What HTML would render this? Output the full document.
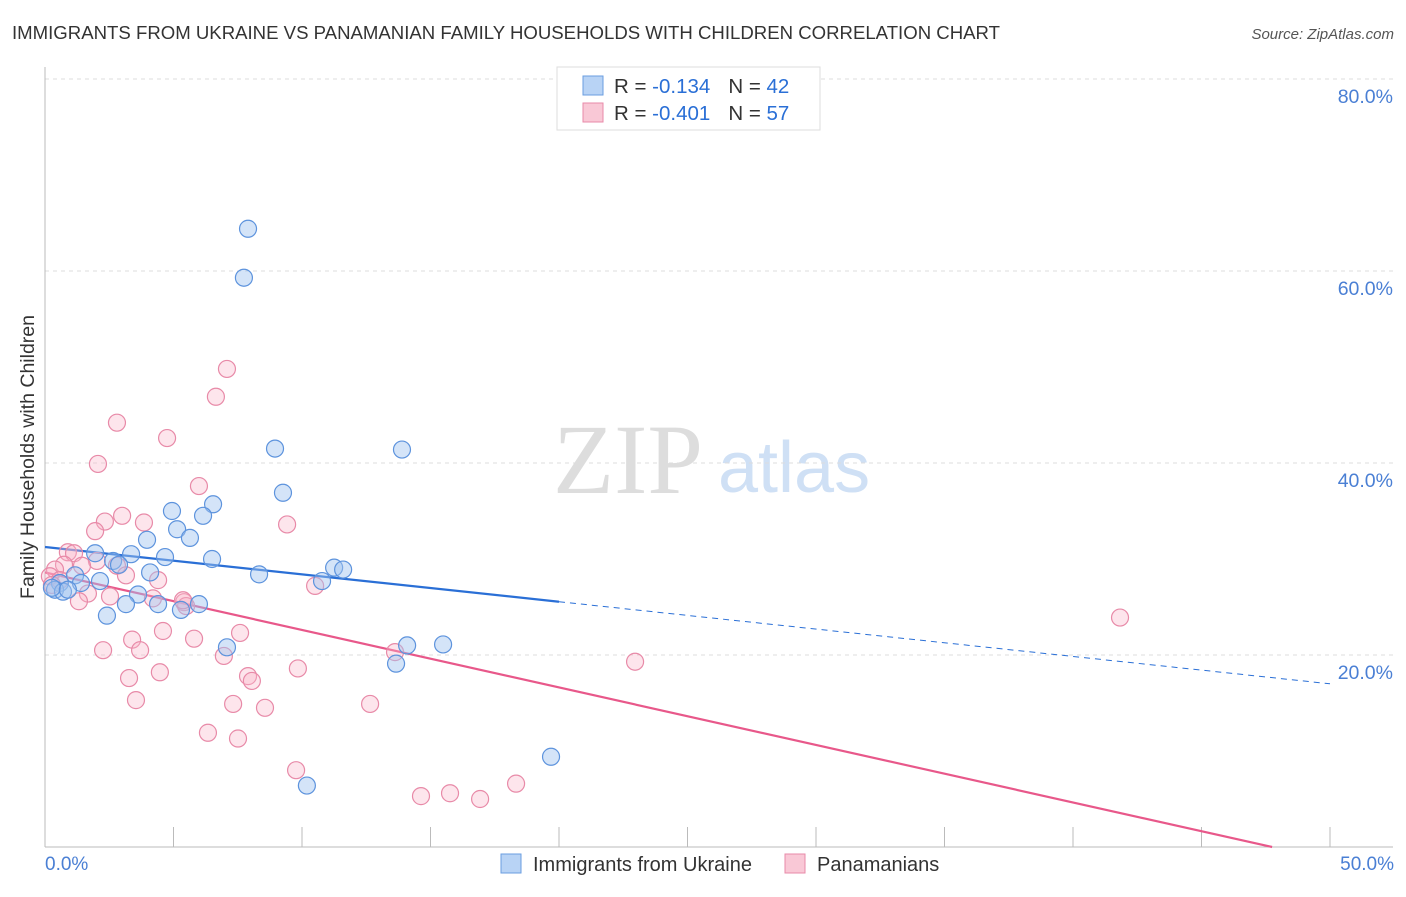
<!DOCTYPE html>
<html><head><meta charset="utf-8"><style>
body{margin:0;background:#fff;font-family:"Liberation Sans",sans-serif;}
</style></head><body>
<svg width="1406" height="892" xmlns="http://www.w3.org/2000/svg" font-family="Liberation Sans, sans-serif">
<text x="12" y="39" font-size="18.6" fill="#333">IMMIGRANTS FROM UKRAINE VS PANAMANIAN FAMILY HOUSEHOLDS WITH CHILDREN CORRELATION CHART</text>
<text x="1394" y="39" font-size="15" fill="#555" font-style="italic" text-anchor="end">Source: ZipAtlas.com</text>
<text x="553" y="493" font-size="100" fill="#ddd" font-family="Liberation Serif, serif">ZIP</text>
<text x="718" y="492" font-size="72" fill="#cfe0f5">atlas</text>
<g id="grid"></g>
<line x1="45" y1="67" x2="45" y2="847" stroke="#bbb"/>
<line x1="45" y1="847" x2="1393" y2="847" stroke="#bbb"/>
<text x="34" y="457" font-size="19.5" fill="#333" transform="rotate(-90 34 457)" text-anchor="middle">Family Households with Children</text>
<text x="45" y="870" font-size="19" fill="#4a7fd4">0.0%</text>
<text x="1394" y="870" font-size="19" fill="#4a7fd4" text-anchor="end">50.0%</text>
<g id="trend"></g>
<g id="pts"></g>
<g>
<rect x="557" y="67" width="263" height="63" fill="#fff" stroke="#ddd"/>
<rect x="583" y="76" width="20" height="19" fill="#b8d3f5" stroke="#6a9ee0"/>
<rect x="583" y="103" width="20" height="19" fill="#f9c8d6" stroke="#e88aa8"/>
<text x="614" y="93" font-size="20.5" fill="#333">R = <tspan fill="#2a6fd6"> -0.134</tspan><tspan dx="18">N = </tspan><tspan fill="#2a6fd6">42</tspan></text>
<text x="614" y="120" font-size="20.5" fill="#333">R = <tspan fill="#2a6fd6">-0.401</tspan><tspan dx="18">N = </tspan><tspan fill="#2a6fd6">57</tspan></text>
</g>
<g>
<rect x="501" y="854" width="20" height="19" fill="#b8d3f5" stroke="#6a9ee0"/>
<text x="533" y="871" font-size="20" fill="#333">Immigrants from Ukraine</text>
<rect x="785" y="854" width="20" height="19" fill="#f9c8d6" stroke="#e88aa8"/>
<text x="817" y="871" font-size="20" fill="#333">Panamanians</text>
</g>
</svg>
<script>
const yTicks=[20,40,60,80];
const ukrX=[7.90,7.74,8.95,13.89,9.26,6.54,4.94,6.15,5.14,5.64,3.97,1.95,3.35,4.67,6.50,2.65,2.88,11.25,11.60,4.09,8.33,1.17,10.78,2.14,0.58,1.40,3.62,0.39,0.70,3.15,4.40,5.99,5.29,2.41,7.08,14.09,15.49,13.66,19.69,10.19,0.27,0.89];
const ukrY=[64.4,59.3,41.5,41.4,36.9,35.7,35.0,34.5,33.1,32.2,32.0,30.6,30.5,30.2,30.0,29.8,29.4,29.1,28.9,28.6,28.4,28.3,27.7,27.7,27.5,27.5,26.3,26.8,26.6,25.3,25.3,25.3,24.7,24.1,20.8,21.0,21.1,19.1,9.4,6.4,27.0,26.8];
const panX=[7.08,6.65,2.80,4.75,2.06,5.99,3.00,9.42,3.85,2.33,1.95,0.89,1.13,2.02,0.74,2.80,1.44,0.39,0.19,3.15,4.40,1.67,2.53,1.32,4.20,5.41,5.49,4.59,5.80,7.59,3.39,3.70,2.26,6.96,13.62,22.96,9.84,4.47,7.90,8.05,3.27,3.54,7.32,8.56,12.65,6.34,7.51,9.77,14.63,15.76,16.93,18.33,41.83,10.51,0.58,0.27,5.37];
const panY=[49.8,46.9,44.2,42.6,39.9,37.6,34.5,33.6,33.8,33.9,32.9,30.7,30.6,29.8,29.4,29.3,29.3,28.9,28.2,28.3,27.8,26.4,26.1,25.6,25.9,25.5,25.1,22.5,21.7,22.3,21.6,20.5,20.5,19.9,20.3,19.3,18.6,18.2,17.8,17.3,17.6,15.3,14.9,14.5,14.9,11.9,11.3,8.0,5.3,5.6,5.0,6.6,23.9,27.2,27.8,27.3,25.7];
const ukrTrend=[31.25,17.0];
const panTrend=[28.6,-1.35];
const NS="http://www.w3.org/2000/svg";
const xs=v=>45+v*25.7, ys=v=>847-v*9.6;
function mk(t,a,p){const e=document.createElementNS(NS,t);for(const k in a)e.setAttribute(k,a[k]);p.appendChild(e);return e;}
const grid=document.getElementById('grid');
yTicks.forEach(t=>{
 const l=mk('line',{x1:45,x2:1393,y1:ys(t),y2:ys(t),stroke:'#ddd','stroke-dasharray':'4,4'},grid);
 
 
 const tx=mk('text',{x:1393,y:ys(t)+24,'font-size':19.5,fill:'#4a7fd4','text-anchor':'end'},grid);
 tx.textContent=t.toFixed(1)+'%';
 
 
});
for(let i=0;i<=10;i++){
 const tk=mk('line',{x1:xs(i*5),x2:xs(i*5),y1:827,y2:847,stroke:'#bbb'},grid);
 
 
}
const tr=document.getElementById('trend');
const ub=x=>ukrTrend[0]+(ukrTrend[1]-ukrTrend[0])*x/50;
let l1=mk('line',{x1:xs(0),y1:ys(ub(0)),x2:xs(20),y2:ys(ub(20)),stroke:'#2a6fd6','stroke-width':2.2},tr);


let l2=mk('line',{x1:xs(20),y1:ys(ub(20)),x2:xs(50),y2:ys(ub(50)),stroke:'#2a6fd6','stroke-width':1,'stroke-dasharray':'6,5'},tr);


const xz=panTrend[0]/(panTrend[0]-panTrend[1])*50;
let l3=mk('line',{x1:xs(0),y1:ys(panTrend[0]),x2:xs(xz),y2:ys(0),stroke:'#e8588a','stroke-width':2.2},tr);


const pts=document.getElementById('pts');
panX.forEach((x,i)=>{
 const c=mk('circle',{cx:xs(x),cy:ys(panY[i]),r:8.5,fill:'rgba(248,180,200,0.35)',stroke:'#e88aa8','stroke-width':1.2},pts);
 
 
});
ukrX.forEach((x,i)=>{
 const c=mk('circle',{cx:xs(x),cy:ys(ukrY[i]),r:8.5,fill:'rgba(160,195,240,0.45)',stroke:'#5d93dd','stroke-width':1.2},pts);
 
 
});
</script>
</body></html>
